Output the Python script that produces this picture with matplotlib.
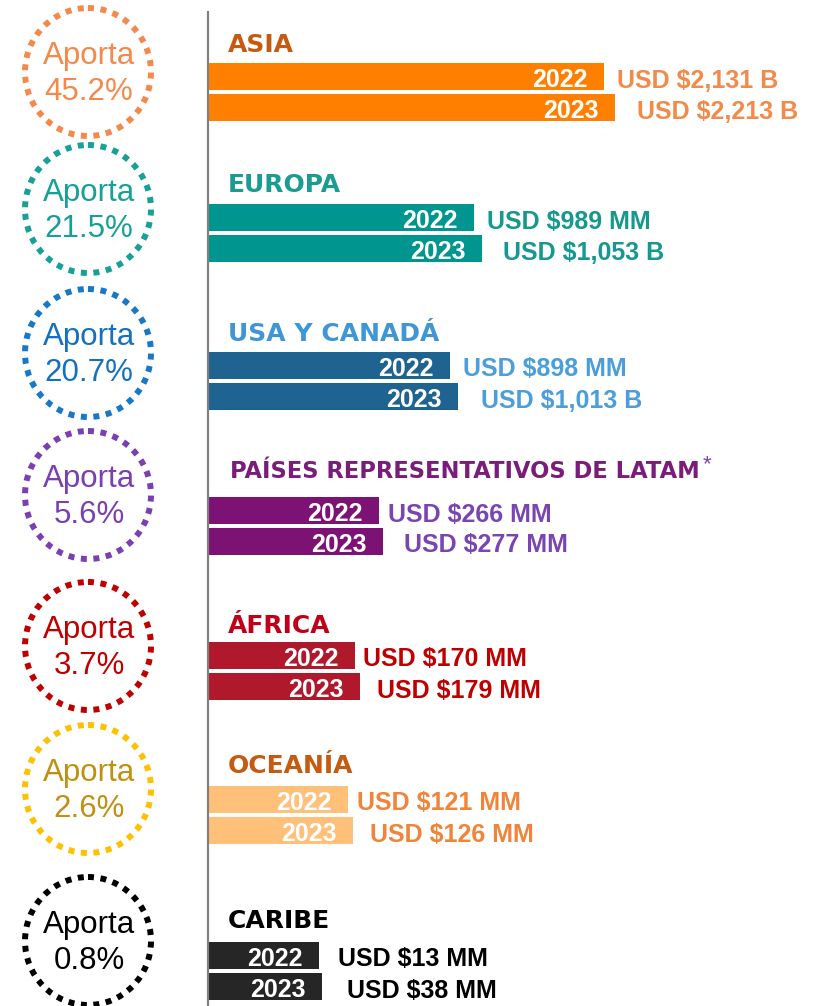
import matplotlib
matplotlib.use("Agg")
import matplotlib.pyplot as plt
from matplotlib.patches import Ellipse

# ---------------- data ----------------
regions = ["ASIA", "EUROPA", "USA Y CANADÁ", "PAÍSES REPRESENTATIVOS DE LATAM",
           "ÁFRICA", "OCEANÍA", "CARIBE"]
share_pct = [45.2, 21.5, 20.7, 5.6, 3.7, 2.6, 0.8]
years = ["2022", "2023"]
value_2022 = ["USD $2,131 B", "USD $989 MM", "USD $898 MM", "USD $266 MM",
              "USD $170 MM", "USD $121 MM", "USD $13 MM"]
value_2023 = ["USD $2,213 B", "USD $1,053 B", "USD $1,013 B", "USD $277 MM",
              "USD $179 MM", "USD $126 MM", "USD $38 MM"]
# drawn bar lengths of the infographic (bars are not to scale with the values)
bar_2022 = [395, 265, 241, 170, 146, 139, 110]
bar_2023 = [406, 273, 249, 174, 151, 144, 113]

# ---------------- styles ----------------
bar_colors = ["#FF8000", "#00968F", "#1F6391", "#7D1275", "#B0192B", "#FFC07A", "#262626"]
title_colors = ["#C55A11", "#1A9C92", "#3F96D6", "#7A1D7A", "#C00018", "#C55A11", "#000000"]
value_colors = ["#F28A4A", "#15998F", "#4A9EDB", "#7A45B2", "#C00000", "#F0843A", "#000000"]
ring_colors = ["#F4894B", "#17A096", "#1778C8", "#7A3FB0", "#C00000", "#FFC000", "#000000"]
ring_text_colors = ["#F4894B", "#17A096", "#1570C0", "#7A3FB0", "#C00000", "#C09010", "#000000"]

# layout (pixel units)
W, H = 826, 1006
bar_top = [63, 204, 352, 497, 642, 786, 942]
title_base = [52, 192, 341, 478, 633, 773, 928]
ring_cy = [72, 209, 353, 495, 646, 789, 941]
gap_2022 = [13, 13, 13, 9, 8, 9, 19]
gap_2023 = [22, 21, 23, 21, 17, 17, 25]
axis_x = 208
bar_left = 209
bar_h = 27
bar_step = 31

fig = plt.figure(figsize=(W / 100, H / 100), dpi=100)
ax = fig.add_axes([0, 0, 1, 1])
ax.set_xlim(0, W)
ax.set_ylim(H, 0)
ax.axis("off")

ax.plot([axis_x, axis_x], [11, H], color="#808080", lw=1.6, solid_capstyle="butt")

lab_font = "Liberation Sans"
title_font = "DejaVu Sans"

for i, reg in enumerate(regions):
    # ring
    ring = Ellipse((88, ring_cy[i]), 126, 128, fill=False, edgecolor=ring_colors[i],
                   lw=4.3, linestyle=(0, (1, 1.1)))
    ring.set_capstyle("butt")
    ax.add_patch(ring)
    ax.text(89, ring_cy[i] - 8, "Aporta", ha="center", va="baseline", fontsize=22.5,
            family=lab_font, color=ring_text_colors[i])
    ax.text(89, ring_cy[i] + 28, f"{share_pct[i]:.1f}%", ha="center", va="baseline",
            fontsize=22.5, family=lab_font, color=ring_text_colors[i])

    # title
    if i == 3:
        ax.text(230, title_base[i], reg, ha="left", va="baseline", fontsize=16.3,
                fontweight="bold", family=title_font, color=title_colors[i])
        ax.text(703, title_base[i] - 8, "*", ha="left", va="baseline", fontsize=16,
                family=lab_font, color=value_colors[i])
    else:
        ax.text(228, title_base[i], reg, ha="left", va="baseline", fontsize=18,
                fontweight="bold", family=title_font, color=title_colors[i])

    # bars
    lens = [bar_2022[i], bar_2023[i]]
    vals = [value_2022[i], value_2023[i]]
    gaps = [gap_2022[i], gap_2023[i]]
    for j, yr in enumerate(years):
        yc = bar_top[i] + bar_h / 2 + j * bar_step
        ax.barh(yc, lens[j], left=bar_left, height=bar_h, color=bar_colors[i],
                edgecolor="none")
        ax.text(bar_left + lens[j] - 16, yc + bar_h / 2 - 3, yr, ha="right",
                va="baseline", fontsize=18, fontweight="bold", family=lab_font,
                color="white")
        ax.text(bar_left + lens[j] + gaps[j], yc + bar_h / 2 - 2.5, vals[j], ha="left",
                va="baseline", fontsize=18, fontweight="bold", family=lab_font,
                color=value_colors[i])

fig.savefig("out.png", dpi=100)
